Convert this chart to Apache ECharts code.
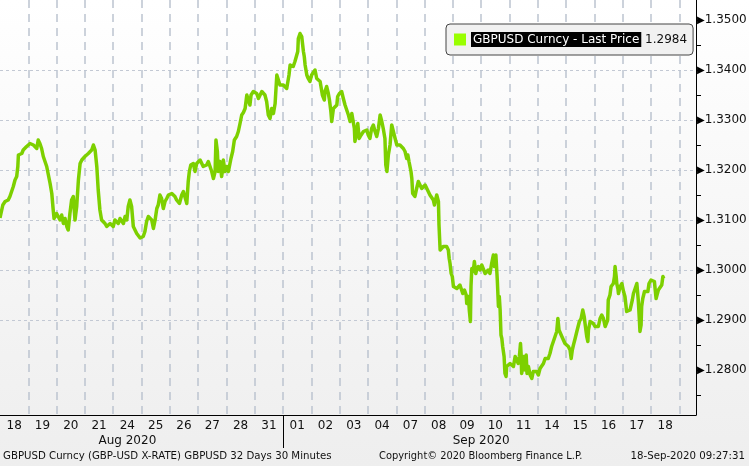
<!DOCTYPE html>
<html><head><meta charset="utf-8">
<script src="https://cdn.jsdelivr.net/npm/echarts@6/dist/echarts.min.js"></script>
<style>html,body{margin:0;padding:0;}#c{width:749px;height:466px;}</style>
</head><body><div id="c"></div>
<script>
const seriesName = 'GBPUSD Curncy - Last Price';
const dayLabels = ['18','19','20','21','24','25','26','27','28','31','01','02','03','04','07','08','09','10','11','14','15','16','17','18'];
const monthLabels = ['Aug 2020','Sep 2020'];
const monthLabelAt = [4.5, 17];
const monthBoundary = [10];
const priceTicks = [1.28,1.29,1.30,1.31,1.32,1.33,1.34,1.35];
const halfTicks = [1.275,1.285,1.295,1.305,1.315,1.325,1.335,1.345];
const lastPrice = 1.2984;
const footerLeft = 'GBPUSD Curncy (GBP-USD X-RATE) GBPUSD 32 Days 30 Minutes';
const footerMid = 'Copyright\u00a9 2020 Bloomberg Finance L.P.';
const footerRight = '18-Sep-2020 09:27:31';

// time in trading days since 18 Aug 2020 (session start), and last price
const tradingDay = [
0.00,0.10,0.18,0.29,0.35,0.41,0.47,0.53,0.59,0.63,
0.65,0.77,0.82,0.94,1.06,1.12,1.18,1.24,1.30,1.35,
1.41,1.47,1.53,1.59,1.65,1.77,1.83,1.88,1.91,2.00,
2.06,2.12,2.18,2.24,2.30,2.36,2.41,2.47,2.53,2.59,
2.65,2.71,2.77,2.83,2.89,3.00,3.12,3.24,3.30,3.36,
3.42,3.47,3.53,3.59,3.71,3.77,3.89,4.00,4.06,4.18,
4.24,4.36,4.42,4.48,4.53,4.59,4.65,4.71,4.83,4.95,
5.06,5.12,5.18,5.24,5.30,5.36,5.42,5.48,5.54,5.59,
5.65,5.71,5.77,5.83,5.89,5.95,6.07,6.18,6.24,6.34,
6.42,6.48,6.54,6.60,6.65,6.69,6.74,6.83,6.89,6.95,
7.07,7.13,7.18,7.30,7.36,7.42,7.48,7.54,7.60,7.63,
7.68,7.71,7.77,7.83,7.87,7.89,7.95,8.01,8.07,8.13,
8.16,8.22,8.28,8.36,8.42,8.48,8.54,8.60,8.66,8.72,
8.77,8.83,8.87,8.95,9.07,9.13,9.19,9.25,9.30,9.36,
9.42,9.48,9.54,9.60,9.66,9.72,9.78,9.83,9.89,10.01,
10.13,10.21,10.25,10.31,10.36,10.42,10.48,10.52,10.54,10.60,
10.66,10.72,10.75,10.78,10.84,10.89,10.95,11.01,11.07,11.13,
11.19,11.25,11.31,11.37,11.39,11.46,11.48,11.54,11.60,11.64,
11.69,11.72,11.78,11.84,11.90,11.93,11.99,12.07,12.13,12.19,
12.25,12.31,12.37,12.43,12.48,12.52,12.54,12.60,12.64,12.69,
12.76,12.84,12.96,13.01,13.07,13.13,13.19,13.25,13.31,13.37,
13.43,13.49,13.54,13.60,13.63,13.67,13.72,13.78,13.84,13.90,
13.96,14.02,14.07,14.13,14.19,14.25,14.31,14.37,14.41,14.45,
14.52,14.55,14.58,14.66,14.72,14.78,14.84,14.90,14.96,15.02,
15.08,15.13,15.19,15.25,15.31,15.35,15.40,15.43,15.49,15.51,
15.55,15.61,15.66,15.72,15.78,15.84,15.87,15.90,15.94,15.98,
16.02,16.08,16.14,16.19,16.25,16.31,16.35,16.41,16.47,16.49,
16.55,16.58,16.62,16.64,16.67,16.72,16.76,16.81,16.84,16.90,
16.96,17.02,17.08,17.14,17.20,17.25,17.31,17.37,17.43,17.47,
17.52,17.55,17.57,17.61,17.64,17.67,17.70,17.73,17.76,17.81,
17.84,17.88,17.90,17.96,18.02,18.08,18.14,18.20,18.26,18.31,
18.35,18.39,18.41,18.43,18.47,18.49,18.53,18.55,18.59,18.62,
18.67,18.73,18.79,18.84,18.90,18.96,19.02,19.08,19.14,19.20,
19.26,19.32,19.37,19.43,19.49,19.55,19.61,19.67,19.71,19.75,
19.79,19.85,19.90,19.96,20.02,20.08,20.14,20.18,20.22,20.26,
20.32,20.38,20.43,20.47,20.53,20.59,20.64,20.67,20.73,20.77,
20.79,20.85,20.91,20.96,21.02,21.08,21.14,21.20,21.26,21.32,
21.38,21.44,21.47,21.49,21.55,21.59,21.61,21.67,21.71,21.73,
21.77,21.79,21.83,21.85,21.91,21.97,22.03,22.08,22.14,22.20,
22.26,22.30,22.34,22.38,22.44,22.50,22.53,22.55,22.59,22.61,
22.65,22.67,22.71,22.77,22.83,22.89,22.93,23.00,23.06,23.12,
23.18,23.23,23.26,23.32,23.38,23.42,23.45,23.47
];
const price = [
1.3104,1.3130,1.3137,1.3140,1.3147,1.3157,1.3167,1.3180,1.3187,1.3207,
1.3230,1.3233,1.3240,1.3247,1.3253,1.3257,1.3250,1.3247,1.3243,1.3260,
1.3253,1.3243,1.3227,1.3217,1.3207,1.3173,1.3153,1.3120,1.3103,1.3113,
1.3117,1.3100,1.3110,1.3093,1.3103,1.3087,1.3080,1.3113,1.3140,1.3147,
1.3100,1.3127,1.3180,1.3213,1.3220,1.3227,1.3233,1.3240,1.3250,1.3240,
1.3207,1.3160,1.3120,1.3100,1.3093,1.3087,1.3093,1.3087,1.3100,1.3093,
1.3103,1.3093,1.3107,1.3100,1.3127,1.3140,1.3127,1.3087,1.3073,1.3064,
1.3067,1.3077,1.3097,1.3107,1.3107,1.3100,1.3083,1.3100,1.3123,1.3130,
1.3150,1.3143,1.3123,1.3137,1.3143,1.3150,1.3153,1.3147,1.3140,1.3133,
1.3150,1.3157,1.3160,1.3133,1.3177,1.3197,1.3210,1.3213,1.3197,1.3213,
1.3220,1.3217,1.3207,1.3210,1.3217,1.3220,1.3197,1.3183,1.3197,1.3260,
1.3237,1.3197,1.3217,1.3187,1.3203,1.3220,1.3197,1.3207,1.3197,1.3193,
1.3223,1.3237,1.3260,1.3267,1.3277,1.3293,1.3310,1.3315,1.3323,1.3350,
1.3347,1.3330,1.3350,1.3357,1.3353,1.3343,1.3340,1.3357,1.3360,1.3350,
1.3337,1.3310,1.3303,1.3323,1.3313,1.3333,1.3390,1.3387,1.3370,1.3370,
1.3363,1.3390,1.3410,1.3413,1.3407,1.3417,1.3420,1.3437,1.3463,1.3473,
1.3467,1.3437,1.3427,1.3410,1.3390,1.3383,1.3377,1.3390,1.3393,1.3400,
1.3383,1.3380,1.3377,1.3373,1.3350,1.3340,1.3357,1.3367,1.3353,1.3340,
1.3317,1.3297,1.3323,1.3327,1.3330,1.3347,1.3353,1.3357,1.3343,1.3330,
1.3327,1.3310,1.3297,1.3313,1.3317,1.3283,1.3257,1.3277,1.3293,1.3263,
1.3270,1.3277,1.3280,1.3270,1.3263,1.3283,1.3290,1.3277,1.3267,1.3283,
1.3310,1.3297,1.3283,1.3263,1.3210,1.3197,1.3230,1.3250,1.3290,1.3287,
1.3263,1.3250,1.3253,1.3250,1.3247,1.3243,1.3237,1.3223,1.3230,1.3217,
1.3197,1.3183,1.3153,1.3147,1.3163,1.3177,1.3170,1.3163,1.3167,1.3170,
1.3163,1.3163,1.3150,1.3147,1.3140,1.3130,1.3143,1.3150,1.3137,1.3090,
1.3040,1.3040,1.3047,1.3043,1.3047,1.3040,1.3023,1.3013,1.2993,1.2987,
1.2967,1.2963,1.2963,1.2960,1.2970,1.2967,1.2953,1.2960,1.2950,1.2933,
1.2947,1.2920,1.2897,1.2967,1.3003,1.2997,1.3017,1.2993,1.3000,1.3007,
1.3000,1.3010,1.3007,1.2993,1.2997,1.3000,1.2993,1.3013,1.3030,1.3007,
1.3030,1.3027,1.2980,1.2927,1.2947,1.2920,1.2870,1.2863,1.2847,1.2827,
1.2793,1.2787,1.2807,1.2803,1.2813,1.2810,1.2807,1.2827,1.2830,1.2813,
1.2827,1.2853,1.2833,1.2793,1.2807,1.2827,1.2820,1.2800,1.2830,1.2793,
1.2807,1.2790,1.2783,1.2797,1.2800,1.2797,1.2790,1.2803,1.2803,1.2813,
1.2823,1.2827,1.2823,1.2833,1.2847,1.2857,1.2867,1.2877,1.2903,1.2880,
1.2883,1.2867,1.2863,1.2853,1.2850,1.2847,1.2840,1.2823,1.2840,1.2850,
1.2863,1.2877,1.2880,1.2897,1.2903,1.2920,1.2907,1.2893,1.2867,1.2857,
1.2880,1.2897,1.2900,1.2893,1.2887,1.2883,1.2887,1.2903,1.2910,1.2903,
1.2887,1.2883,1.2900,1.2940,1.2950,1.2967,1.2963,1.2973,1.2987,1.3007,
1.2987,1.2973,1.2963,1.2953,1.2967,1.2973,1.2957,1.2947,1.2917,1.2913,
1.2920,1.2930,1.2940,1.2953,1.2963,1.2973,1.2977,1.2940,1.2900,1.2877,
1.2890,1.2927,1.2943,1.2957,1.2953,1.2957,1.2973,1.2980,1.2983,1.2977,
1.2943,1.2947,1.2960,1.2963,1.2970,1.2987,1.2983,1.2984
];

const FONT = 'DejaVu Sans';
const X_MAX = 24.59, Y_MIN = 1.271, Y_MAX = 1.354;
const gridColor = '#c3c9d4';
const textColor = '#111';
const footSize = 10.2;
const data = tradingDay.map((t, i) => [t, price[i]]);
const xBase = { type: 'value', min: 0, max: X_MAX, gridIndex: 0, position: 'bottom' };

const chart = echarts.init(document.getElementById('c'));
chart.setOption({
  animation: false,
  backgroundColor: { type: 'linear', x: 0, y: 0, x2: 0, y2: 1,
    colorStops: [{ offset: 0, color: '#ffffff' }, { offset: 1, color: '#eeeeee' }] },
  textStyle: { fontFamily: FONT },
  grid: [{ left: 0, right: 53, top: 0, bottom: 51, outerBoundsMode: 'none' }],
  title: [
    { text: footerLeft, left: 3, top: 451, padding: 0, textStyle: { fontSize: footSize, fontWeight: 'normal', color: textColor, fontFamily: FONT } },
    { text: footerMid, left: 379, top: 451, padding: 0, textStyle: { fontSize: 9.9, fontWeight: 'normal', color: textColor, fontFamily: FONT } },
    { text: footerRight, right: 4, top: 451, padding: 0, textStyle: { fontSize: footSize, fontWeight: 'normal', color: textColor, fontFamily: FONT } }
  ],
  legend: {
    left: 446, top: 24, selectedMode: false, icon: 'rect', itemWidth: 12, itemHeight: 12,
    padding: [8, 6, 8, 8], backgroundColor: '#f1f1f1', borderColor: '#444', borderWidth: 1, borderRadius: 4,
    data: [{ name: seriesName, itemStyle: { color: '#99ff00' } }],
    formatter: n => '{n|' + n + '} {v|' + lastPrice.toFixed(4) + '}',
    textStyle: { fontFamily: FONT, fontSize: 12, color: textColor,
      rich: {
        n: { backgroundColor: '#000', color: '#fff', padding: [2, 2, 1, 2], fontSize: 12, fontFamily: FONT },
        v: { color: textColor, fontSize: 12, fontFamily: FONT }
      } }
  },
  xAxis: [
    Object.assign({}, xBase, {
      interval: 1,
      axisLine: { show: true, onZero: false, lineStyle: { color: '#000', width: 1 } },
      axisTick: { show: false }, axisLabel: { show: false },
      splitLine: { show: true, showMinLine: false, showMaxLine: false, lineStyle: { color: '#bcc3cf', width: 1.5, type: [8, 6] } }
    }),
    Object.assign({}, xBase, {
      axisLine: { show: false, onZero: false },
      axisTick: { show: true, customValues: monthBoundary, length: 33, lineStyle: { color: '#000', width: 1 } },
      axisLabel: { show: true, customValues: dayLabels.map((_, i) => i + 0.5),
        formatter: v => dayLabels[Math.floor(v)], margin: 5, fontSize: 12, color: textColor, fontFamily: FONT },
      splitLine: { show: false }
    }),
    Object.assign({}, xBase, {
      axisLine: { show: false, onZero: false }, axisTick: { show: false },
      axisLabel: { show: true, customValues: monthLabelAt,
        formatter: v => { let k = 0; monthLabelAt.forEach((m, i) => { if (Math.abs(m - v) < 1e-6) k = i; }); return monthLabels[k]; },
        margin: 20, fontSize: 12, color: textColor, fontFamily: FONT },
      splitLine: { show: false }
    })
  ],
  yAxis: [
    { type: 'value', gridIndex: 0, min: Y_MIN, max: Y_MAX, position: 'right',
      axisLine: { show: true, onZero: false, lineStyle: { color: '#000', width: 1 } },
      axisTick: { show: true, customValues: priceTicks, length: 5, lineStyle: { color: '#000' } },
      axisLabel: { customValues: priceTicks, margin: 1,
        formatter: v => '{t|\u25B6}{v|' + v.toFixed(4) + '}',
        rich: { t: { fontSize: 10, color: '#000' }, v: { fontSize: 12, color: textColor, fontFamily: FONT } } },
      splitLine: { show: true, showMinLine: false, showMaxLine: false, lineStyle: { color: gridColor, width: 1, type: [3, 3] } } },
    { type: 'value', gridIndex: 0, min: Y_MIN, max: Y_MAX, position: 'right',
      axisLine: { show: false, onZero: false },
      axisTick: { show: true, customValues: halfTicks, length: 5, lineStyle: { color: '#000', width: 1 } },
      axisLabel: { show: false }, splitLine: { show: false } }
  ],
  series: [{
    type: 'line', name: seriesName, xAxisIndex: 0, yAxisIndex: 0, data: data,
    symbol: 'none', showSymbol: false, z: 3,
    lineStyle: { color: '#7dd000', width: 3.5, join: 'round' }, itemStyle: { color: '#7dd000' }
  }]
});
</script>
</body></html>
